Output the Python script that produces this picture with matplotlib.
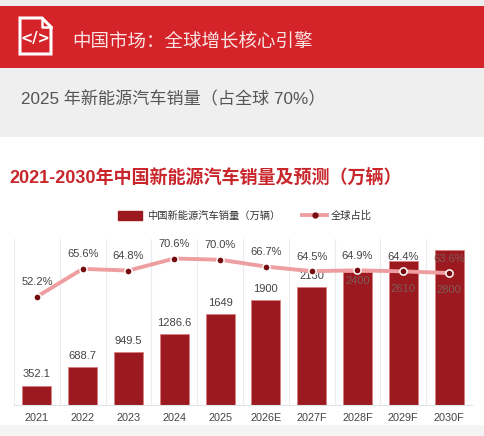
import numpy as np
import matplotlib.pyplot as plt
from matplotlib.patches import Rectangle, Polygon
from matplotlib.lines import Line2D

plt.rcParams['font.family'] = ['Liberation Sans', 'Noto Sans CJK SC', 'DejaVu Sans']

years = ['2021', '2022', '2023', '2024', '2025', '2026E', '2027F', '2028F', '2029F', '2030F']
sales = [352.1, 688.7, 949.5, 1286.6, 1649, 1900, 2130, 2400, 2610, 2800]
sales_text = ['352.1', '688.7', '949.5', '1286.6', '1649', '1900', '2130', '2400', '2610', '2800']
# where the sales labels sit (the last three sit lower, inside the bars)
bar_label_y = [352.1, 688.7, 949.5, 1286.6, 1649, 1900, 2130, 2040, 1900, 1880]
share = [52.2, 65.6, 64.8, 70.6, 70.0, 66.7, 64.5, 64.9, 64.4, 63.6]

banner_red = '#D5232A'
bar_red = '#9C1A1F'
dark_red = '#760C10'
line_pink = '#EE9EA0'
txt = '#444444'
txt_on_bar = '#7E5A5A'

W, H = 485, 436
fig = plt.figure(figsize=(W / 100, H / 100), dpi=100)
fig.patch.set_facecolor('white')

# page decoration drawn in pixel coordinates
bg = fig.add_axes([0, 0, 1, 1])
bg.set_xlim(0, W)
bg.set_ylim(H, 0)
bg.axis('off')
bg.add_patch(Rectangle((0, 0), W, 6, color='#EDEDED', lw=0))
bg.add_patch(Rectangle((0, 6), W, 62, color=banner_red, lw=0))
bg.add_patch(Rectangle((0, 68), W, 69, color='#EFEFEF', lw=0))
bg.add_patch(Rectangle((0, 425), W, 11, color='#F4F4F4', lw=0))

# file icon
bg.add_patch(Polygon([(20, 18), (42, 18), (51, 27), (51, 54), (20, 54)], closed=True,
                     fill=False, ec='white', lw=2.2, joinstyle='miter'))
bg.plot([42, 42, 51], [18, 27, 27], color='white', lw=1.8)
bg.text(35.5, 38.5, '</>', color='white', fontsize=10.5, fontweight='bold',
        ha='center', va='center', family='DejaVu Sans')

bg.text(72, 42, '中国市场：全球增长核心引擎', color='#FBE4E4', fontsize=13.3,
        ha='left', va='center')
bg.text(21, 99, '2025 年新能源汽车销量（占全球 70%）', color='#555555', fontsize=12.3,
        ha='left', va='center')
bg.text(9, 178, '2021-2030年中国新能源汽车销量及预测（万辆）', color='#C9262C',
        fontsize=13, fontweight='bold', ha='left', va='center')

# chart
ax = fig.add_axes([14 / W, 31 / H, 458 / W, 166 / H])
ax.set_facecolor('none')
x = np.arange(len(years))
ax.bar(x, sales, width=0.63, color=bar_red, edgecolor='#D98080', linewidth=0.6, zorder=2)
ax.set_xlim(-0.5, len(years) - 0.5)
ax.set_ylim(0, 3000)
ax.set_yticks([])
ax.set_xticks(x)
ax.set_xticklabels(years, fontsize=7.8, color=txt)
ax.tick_params(axis='x', length=0, pad=5.5)
for b in np.arange(-0.5, len(years), 1.0):
    ax.axvline(b, color='#E8EBEF', lw=0.8, zorder=0)
for s in ['top', 'right', 'left']:
    ax.spines[s].set_visible(False)
ax.spines['bottom'].set_color('#DCE2E8')
ax.spines['bottom'].set_linewidth(0.8)

for i in range(len(years)):
    ax.annotate(sales_text[i], (x[i], bar_label_y[i]), xytext=(0, 8), textcoords='offset points',
                ha='center', va='center', fontsize=8, color=txt_on_bar if i >= 7 else txt,
                zorder=6)

ax2 = ax.twinx()
ax2.set_ylim(0, 80)
ax2.set_yticks([])
for s in ax2.spines.values():
    s.set_visible(False)
ax2.plot(x, share, color=line_pink, lw=2.8, marker='o', markersize=5.2,
         markerfacecolor=dark_red, markeredgecolor='white', markeredgewidth=1.1, zorder=4)
for i in range(len(years)):
    ax2.annotate(f'{share[i]:.1f}%', (x[i], share[i]), xytext=(0, 10.4), textcoords='offset points',
                 ha='center', va='center', fontsize=8, color=txt_on_bar if i >= 9 else txt,
                 zorder=6)

handles = [Rectangle((0, 0), 1, 1, color=bar_red),
           Line2D([0], [0], color=line_pink, lw=2.8, marker='o', markersize=3.5,
                  markerfacecolor=dark_red, markeredgecolor=dark_red)]
fig.legend(handles, ['中国新能源汽车销量（万辆）', '全球占比'], loc='center',
           bbox_to_anchor=(245 / W, 1 - 216 / H), ncol=2, frameon=False,
           prop={'size': 7.4}, labelcolor='#333333', handlelength=2.4, handleheight=0.9,
           handletextpad=0.4, columnspacing=2.2)

fig.savefig('out.png', dpi=100)
